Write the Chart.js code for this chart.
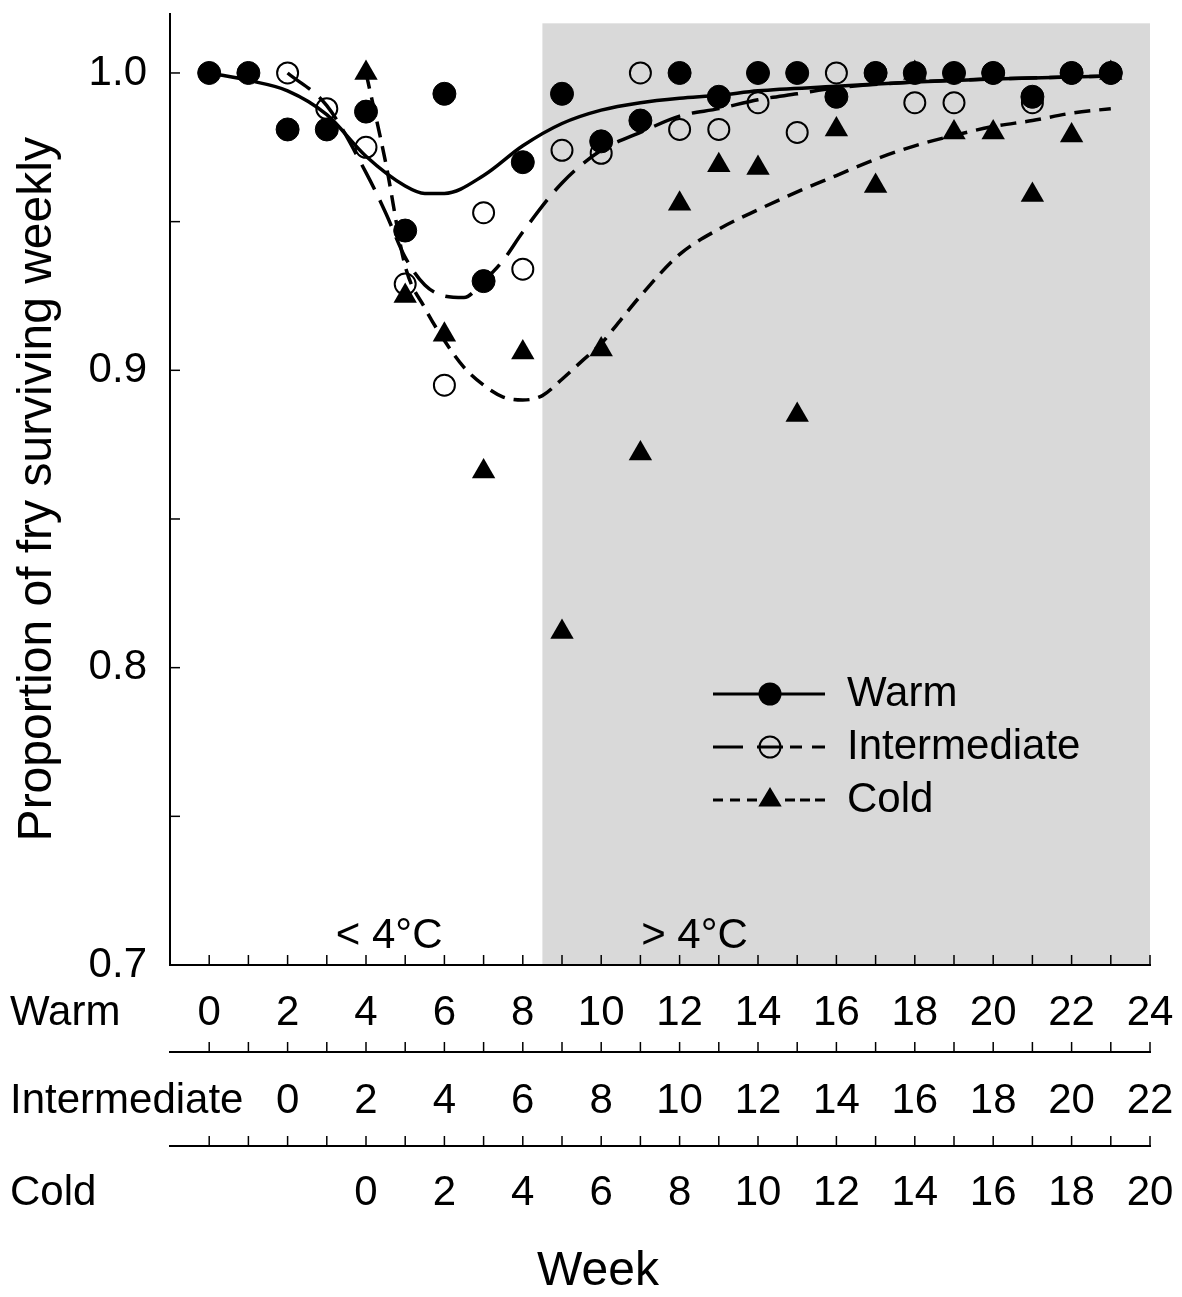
<!DOCTYPE html>
<html>
<head>
<meta charset="utf-8">
<script src="https://cdn.jsdelivr.net/npm/chart.js@4.4.1/dist/chart.umd.min.js"></script>
<style>
  html, body { margin: 0; padding: 0; background: #fff; }
  canvas { display: block; }
</style>
</head>
<body>
<canvas id="chart-canvas" width="1182" height="1297"></canvas>
<script>
const FONT = 'Arial, "Liberation Sans", Helvetica, sans-serif';

// weekly survival, each group counted from its own week 0
const warmWeeks = [0, 1, 2, 3, 4, 5, 6, 7, 8, 9, 10, 11, 12, 13, 14, 15, 16, 17, 18, 19, 20, 21, 22, 23];
const warmSurvival = [1.0, 1.0, 0.981, 0.981, 0.987, 0.947, 0.993, 0.930, 0.970, 0.993, 0.977, 0.984,
    1.0, 0.992, 1.0, 1.0, 0.992, 1.0, 1.0, 1.0, 1.0, 0.992, 1.0, 1.0];

const intermediateWeeks = [0, 1, 2, 3, 4, 5, 6, 7, 8, 9, 10, 11, 12, 13, 14, 15, 16, 17, 18, 19, 20, 21];
const intermediateSurvival = [1.0, 0.988, 0.975, 0.929, 0.895, 0.953, 0.934, 0.974, 0.973, 1.0, 0.981,
    0.981, 0.990, 0.980, 1.0, 1.0, 0.990, 0.990, 1.0, 0.990, 1.0, 1.0];

const coldWeeks = [0, 1, 2, 3, 4, 5, 6, 7, 8, 9, 10, 11, 12, 13, 14, 15, 16, 17, 18, 19];
const coldSurvival = [1.0, 0.925, 0.912, 0.866, 0.906, 0.812, 0.907, 0.872, 0.956, 0.969, 0.968, 0.885,
    0.981, 0.962, 1.0, 0.980, 0.980, 0.959, 0.979, 1.0];

// fitted curves
const warmFitWeeks = [0, 1, 2, 3, 4, 5, 5.5, 6, 7, 8, 9, 10, 11, 12, 13, 14, 16, 18, 20, 23];
const warmFit = [1.0, 0.9975, 0.994, 0.986, 0.972, 0.962, 0.9595, 0.9595, 0.9655, 0.9755, 0.983, 0.9875,
    0.990, 0.9915, 0.9925, 0.994, 0.9955, 0.997, 0.998, 0.999];

const intermediateFitWeeks = [0, 1, 2, 2.5, 3, 3.5, 4, 4.5, 5, 5.5, 6, 7, 8, 9, 10, 11, 12, 13, 14, 16, 18, 21];
const intermediateFit = [1.0, 0.989, 0.9665, 0.953, 0.938, 0.9287, 0.925, 0.9245, 0.930, 0.937, 0.9465,
    0.963, 0.974, 0.980, 0.9855, 0.988, 0.991, 0.993, 0.995, 0.997, 0.998, 0.999];

const coldFitWeeks = [0, 0.5, 1, 1.5, 2, 2.5, 3, 3.5, 4, 4.5, 5, 5.5, 6, 6.5, 7, 8, 9, 10, 11, 12, 13, 14,
    15, 16, 17, 18, 19];
const coldFit = [1.0, 0.970, 0.935, 0.921, 0.910, 0.901, 0.895, 0.891, 0.890, 0.8915, 0.897, 0.903, 0.909,
    0.917, 0.925, 0.939, 0.9475, 0.954, 0.960, 0.9655, 0.971, 0.9755, 0.979, 0.982, 0.984, 0.9865, 0.988];

const weekTicks = { warm: [-1, 24], intermediate: [-3, 22], cold: [-5, 20] };
const yRange = [0.7, 1.02];

// > 4°C period, in warm weeks
const shadeFrom = 8.5;
const shadeTo = 24;
const shadeTop = 1.0167;

const toXY = (xs, ys) => xs.map((x, i) => ({ x: x, y: ys[i] }));
const evenLabel = (v) => (v >= 0 && v % 2 === 0) ? String(v) : '';

const backdrop = {
    id: 'backdrop',
    beforeDraw(chart) {
        const ctx = chart.ctx;
        const x = chart.scales.x, y = chart.scales.y;
        const left = x.getPixelForValue(shadeFrom), right = x.getPixelForValue(shadeTo);
        const top = y.getPixelForValue(shadeTop), bottom = y.getPixelForValue(yRange[0]);
        ctx.save();
        ctx.fillStyle = '#d9d9d9';
        ctx.fillRect(left, top, right - left, bottom - top);
        ctx.restore();
    },
    beforeDatasetsDraw(chart) {
        const ctx = chart.ctx;
        ctx.save();
        ctx.strokeStyle = '#000';
        ctx.lineWidth = 1.5;
        ['x', 'xi', 'xc'].forEach(id => {
            const s = chart.scales[id];
            s.ticks.forEach(t => {
                if (t.value <= s.min) return;
                const px = s.getPixelForValue(t.value);
                ctx.beginPath();
                ctx.moveTo(px, s.top);
                ctx.lineTo(px, s.top - 10);
                ctx.stroke();
            });
        });
        const ys = chart.scales.y;
        ys.ticks.forEach(t => {
            const py = ys.getPixelForValue(t.value);
            ctx.beginPath();
            ctx.moveTo(ys.right, py);
            ctx.lineTo(ys.right + 10, py);
            ctx.stroke();
        });

        ctx.fillStyle = '#000';
        ctx.font = '42px ' + FONT;
        ctx.textBaseline = 'middle';
        ctx.textAlign = 'center';
        const x = chart.scales.x;
        ctx.fillText('< 4°C', x.getPixelForValue(4.59), ys.getPixelForValue(0.7097));
        ctx.fillText('> 4°C', x.getPixelForValue(12.38), ys.getPixelForValue(0.7097));

        ctx.textAlign = 'left';
        [['x', 'Warm'], ['xi', 'Intermediate'], ['xc', 'Cold']].forEach(([id, name]) => {
            const s = chart.scales[id];
            ctx.fillText(name, 10, s.top + s.options.ticks.padding + 25.2);
        });

        // axis title sits centred on the page, not on the plot
        ctx.textAlign = 'center';
        ctx.font = '48px ' + FONT;
        ctx.fillText('Week', 598, 1272);
        ctx.restore();
    },
    afterDraw(chart) {
        const ctx = chart.ctx;
        const rows = [
            { name: 'Warm', y: 694, segs: [[713, 825]], marker: 'dot' },
            { name: 'Intermediate', y: 747, segs: [[713, 743], [757, 783], [790, 802], [812, 825]], marker: 'ring' },
            { name: 'Cold', y: 800, segs: [[713, 723], [730, 740], [747, 757], [785, 795], [800, 810], [815, 825]], marker: 'tri' }
        ];
        ctx.save();
        ctx.strokeStyle = '#000';
        ctx.fillStyle = '#000';
        rows.forEach(r => {
            ctx.lineWidth = 3;
            r.segs.forEach(([a, b]) => {
                ctx.beginPath();
                ctx.moveTo(a, r.y);
                ctx.lineTo(b, r.y);
                ctx.stroke();
            });
            ctx.beginPath();
            if (r.marker === 'dot') {
                ctx.arc(770, r.y, 11.5, 0, Math.PI * 2);
                ctx.fill();
            } else if (r.marker === 'ring') {
                ctx.lineWidth = 2;
                ctx.arc(770, r.y, 10.5, 0, Math.PI * 2);
                ctx.stroke();
            } else {
                ctx.moveTo(770, r.y - 13);
                ctx.lineTo(770 + 11.7, r.y + 6.5);
                ctx.lineTo(770 - 11.7, r.y + 6.5);
                ctx.closePath();
                ctx.fill();
            }
            ctx.font = '42px ' + FONT;
            ctx.textAlign = 'left';
            ctx.textBaseline = 'middle';
            ctx.fillText(r.name, 847, r.y);
        });
        ctx.restore();
    }
};

function bottomAxis(range, weight, height, padding) {
    return {
        type: 'linear',
        position: 'bottom',
        weight: weight,
        min: range[0],
        max: range[1],
        grid: { display: false, drawTicks: false },
        border: { display: true, color: '#000', width: 2 },
        ticks: {
            stepSize: 1,
            autoSkip: false,
            maxRotation: 0,
            padding: padding,
            color: '#000',
            font: { family: FONT, size: 42 },
            callback: evenLabel
        },
        afterFit: (s) => { s.height = height; s.paddingLeft = 0; s.paddingRight = 0; }
    };
}

const data = {
    datasets: [
        { label: 'Warm', data: toXY(warmWeeks, warmSurvival), xAxisID: 'x', order: 0,
          pointStyle: 'circle', pointRadius: 11.5, backgroundColor: '#000', borderColor: '#000', borderWidth: 1 },
        { label: 'Cold', data: toXY(coldWeeks, coldSurvival), xAxisID: 'xc', order: 1,
          pointStyle: 'triangle', pointRadius: 13.5, backgroundColor: '#000', borderColor: '#000', borderWidth: 0 },
        { label: 'Intermediate', data: toXY(intermediateWeeks, intermediateSurvival), xAxisID: 'xi', order: 2,
          pointStyle: 'circle', pointRadius: 10.5, backgroundColor: 'rgba(0,0,0,0)', borderColor: '#000', borderWidth: 2 },
        { label: 'Warm fit', data: toXY(warmFitWeeks, warmFit), xAxisID: 'x', order: 3, showLine: true,
          pointRadius: 0, borderColor: '#000', borderWidth: 3.5, cubicInterpolationMode: 'monotone' },
        { label: 'Intermediate fit', data: toXY(intermediateFitWeeks, intermediateFit), xAxisID: 'xi', order: 4,
          showLine: true, pointRadius: 0, borderColor: '#000', borderWidth: 3.5, borderDash: [28, 12],
          cubicInterpolationMode: 'monotone' },
        { label: 'Cold fit', data: toXY(coldFitWeeks, coldFit), xAxisID: 'xc', order: 5, showLine: true,
          pointRadius: 0, borderColor: '#000', borderWidth: 3.5, borderDash: [16, 9],
          cubicInterpolationMode: 'monotone' }
    ]
};

const config = {
    type: 'scatter',
    data,
    plugins: [backdrop],
    options: {
        responsive: false,
        animation: false,
        layout: { padding: { top: 10, right: 32, bottom: 0, left: 0 } },
        plugins: { legend: { display: false }, tooltip: { enabled: false } },
        scales: {
            x: bottomAxis(weekTicks.warm, 0, 87, 23),
            xi: bottomAxis(weekTicks.intermediate, 1, 94, 24),
            xc: bottomAxis(weekTicks.cold, 2, 151, 22),
            y: {
                min: yRange[0],
                max: yRange[1],
                grid: { display: false, drawTicks: false },
                border: { display: true, color: '#000', width: 2 },
                ticks: {
                    stepSize: 0.05,
                    includeBounds: false,
                    padding: 23,
                    color: '#000',
                    font: { family: FONT, size: 42 },
                    callback: (v) => Math.round(v * 100) % 10 === 0 ? v.toFixed(1) : ''
                },
                title: { display: true, text: 'Proportion of fry surviving weekly', color: '#000',
                         font: { family: FONT, size: 48, lineHeight: 1 }, padding: { top: 14, bottom: 0 } },
                afterFit: (s) => { s.width = 170; s.paddingTop = 0; s.paddingBottom = 0; }
            }
        }
    }
};

let myChart = new Chart(document.getElementById('chart-canvas'), config);
</script>
</body>
</html>
